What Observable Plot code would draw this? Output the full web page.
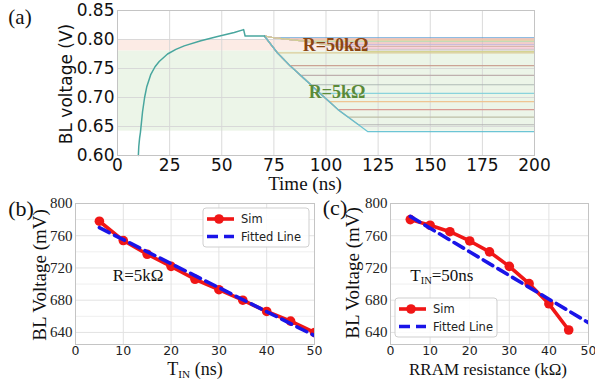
<!DOCTYPE html>
<html><head><meta charset="utf-8">
<script src="https://cdn.jsdelivr.net/npm/d3@7"></script>
<script src="https://cdn.jsdelivr.net/npm/@observablehq/plot@0.6"></script>
<style>
body{margin:0;background:#fff;}
#root{position:relative;width:595px;height:381px;overflow:hidden;background:#fff;}
.abs{position:absolute;white-space:nowrap;line-height:1;}
.serif{font-family:"Liberation Serif","Times New Roman",serif;color:#111;}
.sans{font-family:"DejaVu Sans",sans-serif;color:#111;}
.c{transform:translate(-50%,-50%);}
.r{transform:translate(-50%,-50%) rotate(-90deg);}
.sub{font-size:0.62em;position:relative;top:0.28em;}
</style></head><body><div id="root"></div>
<script>
// ---------- Panel (a): BL voltage transients ----------
const timeTicksA = [0, 25, 50, 75, 100, 125, 150, 175, 200];
const voltTicksA = [0.60, 0.65, 0.70, 0.75, 0.80, 0.85];
const riseTime = [10, 10.2, 10.6, 11, 12, 13, 14, 16, 18, 20, 24, 28, 32, 40, 48, 56, 60.5, 61.2, 70.5];
const riseVolt = [0.600, 0.615, 0.630, 0.640, 0.675, 0.700, 0.718, 0.740, 0.753, 0.762, 0.775, 0.783, 0.789, 0.798, 0.805, 0.812, 0.817, 0.806, 0.806];
const descentStartTime = 70.5;
const descentStartVolt = 0.806;
const simEndTime = 200;
const level5k = [0.777, 0.755, 0.738, 0.722, 0.707, 0.693, 0.679, 0.666, 0.653, 0.641];
const reach5k = [76.7, 82.7, 87.9, 92.7, 97.2, 101.5, 105.8, 110.7, 115.6, 120.1];
const colors5k = ["#d9c98f", "#c99a8c", "#b9a9a7", "#a9b5b0", "#7fcfda", "#efc088", "#d8918a", "#b9b9a0", "#b0b0b0", "#5cbfd0"];
const level50k = [0.803, 0.801, 0.799, 0.797, 0.794, 0.791, 0.788, 0.785, 0.782, 0.779];
const reach50k = [75, 80, 85, 90, 95, 100, 105, 110, 115, 120];
const colors50k = ["#5a9fd4", "#f2b5a6", "#f6c89a", "#a9d3a0", "#e3a7a7", "#c6b6d8", "#d7afa6", "#efb8cf", "#c2c2c2", "#d3d08a"];
const band50k = [0.780, 0.800];
const band5k = [0.642, 0.780];
const annotA = [
  {t: 104.6, v: 0.790, label: "R=50kΩ", color: "#8b4513"},
  {t: 105.3, v: 0.7086, label: "R=5kΩ", color: "#5b8a38"}
];

// ---------- Panel (b): BL voltage vs T_IN ----------
const tinB = [5, 10, 15, 20, 25, 30, 35, 40, 45, 50];
const simB = [778, 754, 737, 722, 706, 693, 680, 666, 654, 640];
const fitBx = [5, 50];
const fitBy = [770, 636];
const annotB = [{x: 13.1, y: 711, label: "R=5kΩ"}];

// ---------- Panel (c): BL voltage vs RRAM resistance ----------
const resC = [5, 10, 15, 20, 25, 30, 35, 40, 45];
const simC = [780, 773, 765, 753.5, 740, 722, 700.5, 675.5, 643];
const fitCx = [5, 50];
const fitCy = [784, 652];

const xTicksBC = [0, 10, 20, 30, 40, 50];
const voltTicksBC = [640, 680, 720, 760, 800];
const minorVoltBC = [660, 700, 740, 780];

// ---------- build rows ----------
const riseRows = riseTime.map((t, i) => ({t, v: riseVolt[i]}));
const famRows = [];
function addFamily(name, levels, reach, colors) {
  levels.forEach((lvl, k) => {
    const id = name + k;
    famRows.push({id, t: descentStartTime, v: descentStartVolt, color: colors[k]});
    for (let j = 0; j <= k; j++) famRows.push({id, t: reach[j], v: levels[j], color: colors[k]});
    famRows.push({id, t: simEndTime, v: lvl, color: colors[k]});
  });
}
addFamily("r50k-", level50k, reach50k, colors50k);
addFamily("r5k-", level5k, reach5k, colors5k);

const root = document.getElementById("root");

const A = Plot.plot({
  width: 595, height: 195,
  marginLeft: 117, marginRight: 61, marginTop: 10, marginBottom: 40,
  style: {fontFamily: "DejaVu Sans", fontSize: "17px", color: "#111", background: "transparent", overflow: "visible"},
  x: {domain: [0, 200], label: null},
  y: {domain: [0.60, 0.85], label: null},
  color: {type: "identity"},
  marks: [
    Plot.rect([band50k], {y1: d => d[0], y2: d => d[1], fill: "#fcebe5"}),
    Plot.rect([band5k], {y1: d => d[0], y2: d => d[1], fill: "#ecf5e8"}),
    Plot.gridX(timeTicksA, {stroke: "#d6d6d6", strokeOpacity: 0.9}),
    Plot.gridY(voltTicksA, {stroke: "#d6d6d6", strokeOpacity: 0.9}),
    Plot.line(famRows, {x: "t", y: "v", z: "id", stroke: "color", strokeWidth: 1.2, strokeOpacity: 0.9}),
    Plot.line(riseRows, {x: "t", y: "v", stroke: "#48a69e", strokeWidth: 1.5}),
    Plot.text(annotA, {x: "t", y: "v", text: "label", fill: "color", fontFamily: "Liberation Serif", fontWeight: "bold", fontSize: 18}),
    Plot.axisX(timeTicksA, {tickSize: 0, tickPadding: 3, fontSize: 17, label: null}),
    Plot.axisY(voltTicksA, {tickSize: 0, tickPadding: 3, fontSize: 17, tickFormat: d => d.toFixed(2), label: null}),
    Plot.frame({stroke: "#c4c4c4"})
  ]
});
A.style.position = "absolute"; A.style.left = "0px"; A.style.top = "0px";
root.appendChild(A);

function panel(xs, ys, fx, fy, opts) {
  const sim = xs.map((x, i) => ({x, y: ys[i]}));
  const fit = fx.map((x, i) => ({x, y: fy[i]}));
  const marks = [
    Plot.gridY(minorVoltBC, {stroke: "#efefef", strokeOpacity: 1}),
    Plot.gridX(xTicksBC, {stroke: "#e2e2e2", strokeOpacity: 1}),
    Plot.gridY(voltTicksBC, {stroke: "#e2e2e2", strokeOpacity: 1}),
    Plot.line(sim, {x: "x", y: "y", stroke: "#f01616", strokeWidth: 3.6, clip: true}),
    Plot.dot(sim, {x: "x", y: "y", r: 4.8, fill: "#f01616", clip: true}),
    Plot.line(fit, {x: "x", y: "y", stroke: "#1a14e8", strokeWidth: 3.6, strokeDasharray: "11,6", clip: true}),
    Plot.axisX(xTicksBC, {tickSize: 0, tickPadding: 2, fontSize: 12.5, fontFamily: "DejaVu Sans", label: null}),
    Plot.axisY(voltTicksBC, {tickSize: 0, tickPadding: 3, fontSize: 15, fontFamily: "Liberation Serif", label: null}),
    Plot.frame({stroke: "#c4c4c4"})
  ];
  if (opts.annot) marks.push(Plot.text(opts.annot, {x: "x", y: "y", text: "label", fontFamily: "Liberation Serif", fontSize: 17, fill: "#111"}));
  const p = Plot.plot({
    width: opts.width, height: 186,
    marginLeft: opts.ml, marginRight: opts.mr, marginTop: 8, marginBottom: 37,
    style: {fontFamily: "DejaVu Sans", color: "#222", background: "transparent", overflow: "visible"},
    x: {domain: [0, 50], label: null},
    y: {domain: [625, 800], label: null},
    marks
  });
  p.style.position = "absolute"; p.style.left = opts.left + "px"; p.style.top = "195px";
  // legend
  const g = d3.select(p).append("g").attr("font-family", "DejaVu Sans").attr("font-size", 11.5)
    .attr("fill", "#222").attr("text-anchor", "start");
  const L = opts.legend;
  g.append("rect").attr("x", L.x).attr("y", L.y).attr("width", L.w).attr("height", L.h).attr("rx", 3)
    .attr("fill", "#fff").attr("fill-opacity", 0.85).attr("stroke", "#cfcfcf");
  const y1 = L.y + 11, y2 = L.y + 28.5;
  g.append("line").attr("x1", L.x + 4).attr("x2", L.x + 31).attr("y1", y1).attr("y2", y1).attr("stroke", "#f01616").attr("stroke-width", 3.6);
  g.append("circle").attr("cx", L.x + 16).attr("cy", y1).attr("r", 4.8).attr("fill", "#f01616");
  g.append("text").attr("x", L.x + 38).attr("y", y1).attr("dy", "0.35em").attr("text-anchor", "start").text("Sim");
  g.append("line").attr("x1", L.x + 4).attr("x2", L.x + 31).attr("y1", y2).attr("y2", y2).attr("stroke", "#1a14e8").attr("stroke-width", 3.6).attr("stroke-dasharray", "11,6");
  g.append("text").attr("x", L.x + 38).attr("y", y2).attr("dy", "0.35em").attr("text-anchor", "start").text("Fitted Line");
  root.appendChild(p);
  return p;
}

const B = panel(tinB, simB, fitBx, fitBy, {width: 340, ml: 75, mr: 26, left: 0, annot: annotB,
  legend: {x: 203, y: 13, w: 106, h: 39}});
const C = panel(resC, simC, fitCx, fitCy, {width: 255, ml: 50, mr: 7, left: 340,
  legend: {x: 55, y: 103, w: 102, h: 39}});

// ---------- text overlays ----------
function txt(html, cls, x, y, size) {
  const d = document.createElement("div");
  d.className = "abs " + cls;
  d.style.left = x + "px"; d.style.top = y + "px"; d.style.fontSize = size + "px";
  d.innerHTML = html;
  root.appendChild(d);
}
txt("(a)", "serif c", 20, 17, 21);
txt("BL voltage (V)", "sans r", 66, 84, 17);
txt("Time (ns)", "serif c", 305, 183, 19);
txt("(b)", "serif c", 21, 209, 22);
txt("BL Voltage (mV)", "serif r", 39, 275, 19);
txt("T<span class='sub'>IN</span> (ns)", "serif c", 195, 369, 18);
txt("(c)", "serif c", 335, 208, 22);
txt("BL Voltage (mV)", "serif r", 352, 273, 19);
txt("RRAM resistance (kΩ)", "serif c", 488, 369, 17);
const sxC = C.scale("x"), syC = C.scale("y");
txt("T<span class='sub'>IN</span>=50ns", "serif c", 340 + sxC.apply(13.1), 195 + syC.apply(711), 17);
</script></body></html>
